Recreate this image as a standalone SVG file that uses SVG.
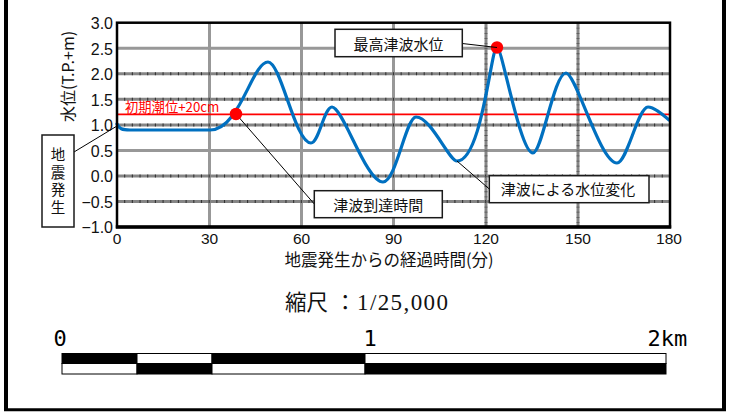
<svg xmlns="http://www.w3.org/2000/svg" width="742" height="414" viewBox="0 0 742 414">
<style>
.cjk{font-family:'Noto Sans CJK JP',sans-serif;fill:#111}
.num{font-family:'Liberation Sans',Arial,sans-serif;font-size:16px;fill:#111}
.box{fill:#fff;stroke:#1a1a1a;stroke-width:1.5}
.lead{stroke:#000;stroke-width:1;fill:none}
.grid{stroke:#858585;stroke-width:3;fill:none}
.gridl{stroke:#989898;stroke-width:3;fill:none}
.tick{stroke:#333;stroke-width:3;fill:none}
.mono{font-family:'DejaVu Sans Mono','Liberation Mono',monospace;font-size:22px;fill:#000}
</style>
<rect width="742" height="414" fill="#fff"/>
<g id="frame" stroke="#000" fill="none">
<line x1="6" y1="0" x2="6" y2="411" stroke-width="4"/>
<line x1="724" y1="0" x2="724" y2="411" stroke-width="4"/>
<line x1="4" y1="409.7" x2="726" y2="409.7" stroke-width="3"/>
</g>
<g id="chart">
<g id="gridlines">
<path class="gridl" d="M117,48.25H670M117,150.45H670M209.5,22.7V227M301.5,22.7V227M393.5,22.7V227"/>
<path class="grid" d="M117,73.8H670M117,99.35H670M117,124.9H670M117,176H670M117,201.55H670M486,22.7V227M578,22.7V227"/>
<path class="tick" stroke-dasharray="1.1 6.58" stroke-dashoffset="0.55" d="M117,73.8H670M117,99.35H670M117,124.9H670M117,176H670M117,201.55H670"/>
<path stroke="#555" stroke-width="3" fill="none" stroke-dasharray="0.8 4.31" d="M486,22.7V227M578,22.7V227"/>
</g>
<line id="tide-line" x1="117" y1="114.3" x2="670" y2="114.3" stroke="#ff0000" stroke-width="1.8"/>
<text x="125" y="111.5" class="cjk" font-size="13.3" style="fill:#ff0000">初期潮位+20cm</text>
<path id="wave" fill="none" stroke="#0070c0" stroke-width="3.2" stroke-linejoin="round" stroke-linecap="round" d="M117,124 C119,128.5 122,130 130,130 L210,130 C240,130 252,62 268,62 C281,62 295,143 311,143 C319,143 324,107 332,107 C343,107 366,182 383,182 C396,182 406,117 416,117 C431,117 449,161 457,161 C482,161 491,47 497,47 C502,47 520,153 533,153 C542,153 554,73 566,73 C576,73 600,163 617,163 C627,163 638,107 648,107 C654,107 662,114 669,120"/>
<rect x="117" y="22.7" width="553" height="204.3" fill="none" stroke="#000" stroke-width="2.5"/>
<line x1="115.8" y1="227" x2="671.2" y2="227" stroke="#000" stroke-width="3.5"/>
<g id="y-labels" class="num" text-anchor="end">
<text x="113" y="29">3.0</text>
<text x="113" y="54.5">2.5</text>
<text x="113" y="80">2.0</text>
<text x="113" y="105.5">1.5</text>
<text x="113" y="131">1.0</text>
<text x="113" y="156.7">0.5</text>
<text x="113" y="182.2">0.0</text>
<text x="113" y="207.7">−0.5</text>
<text x="113" y="233.2">−1.0</text>
</g>
<g id="x-labels" class="num" text-anchor="middle" style="font-size:15.5px">
<text x="117" y="244">0</text>
<text x="209.5" y="244">30</text>
<text x="301.5" y="244">60</text>
<text x="393.5" y="244">90</text>
<text x="486" y="244">120</text>
<text x="578" y="244">150</text>
<text x="669" y="244">180</text>
</g>
<text class="cjk" font-size="16" text-anchor="middle" transform="translate(74,76.5) rotate(-90)">水位(T.P.+m)</text>
<text class="cjk" font-size="16.5" text-anchor="middle" x="389" y="266">地震発生からの経過時間(分)</text>
</g>
<g id="connectors">
<line class="lead" x1="74" y1="152" x2="117" y2="126"/>
<line class="lead" x1="236" y1="114" x2="314.3" y2="204"/>
<line class="lead" x1="457" y1="161" x2="489.3" y2="189"/>
</g>
<g id="dots" fill="#ff0000">
<circle cx="236" cy="114" r="6.2"/>
<circle cx="497" cy="47.5" r="6.2"/>
</g>
<line class="lead" x1="462.3" y1="43.5" x2="497" y2="47.5"/>
<g id="node-earthquake">
<rect class="box" x="42" y="135" width="32" height="92"/>
<text class="cjk" font-size="14.5" x="58" y="182.5" writing-mode="tb" text-anchor="middle" letter-spacing="3.2">地震発生</text>
</g>
<g id="node-max">
<rect class="box" x="335" y="29.3" width="127.3" height="27.4"/>
<text class="cjk" font-size="15" text-anchor="middle" x="398.6" y="49.5">最高津波水位</text>
</g>
<g id="node-arrival">
<rect class="box" x="314.3" y="190.7" width="128" height="27"/>
<text class="cjk" font-size="15" text-anchor="middle" x="378.3" y="210.5">津波到達時間</text>
</g>
<g id="node-change">
<rect class="box" x="489.3" y="175.7" width="159.7" height="27"/>
<text class="cjk" font-size="15" text-anchor="middle" x="568" y="195.3">津波による水位変化</text>
</g>
<g id="scale">
<text class="cjk" font-size="21.5" x="285" y="309.5">縮尺</text>
<text class="cjk" font-size="21.5" x="334.5" y="309.5">：</text>
<text x="357" y="309.5" font-family="'Liberation Serif','Times New Roman',serif" font-size="23" fill="#111" textLength="91" lengthAdjust="spacing">1/25,000</text>
<text class="mono" x="53.5" y="346">0</text>
<text class="mono" x="363.5" y="346">1</text>
<text class="mono" x="647.5" y="346">2km</text>
<g stroke="#000" stroke-width="1">
<rect x="62" y="353.5" width="75" height="10" fill="#000"/>
<rect x="137" y="353.5" width="75" height="10" fill="#fff"/>
<rect x="212" y="353.5" width="153" height="10" fill="#000"/>
<rect x="365" y="353.5" width="301" height="10" fill="#fff"/>
<rect x="62" y="363.5" width="75" height="10.5" fill="#fff"/>
<rect x="137" y="363.5" width="75" height="10.5" fill="#000"/>
<rect x="212" y="363.5" width="153" height="10.5" fill="#fff"/>
<rect x="365" y="363.5" width="301" height="10.5" fill="#000"/>
</g>
</g>
</svg>
